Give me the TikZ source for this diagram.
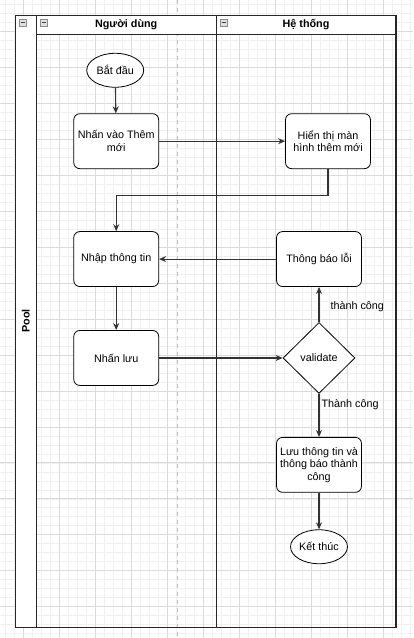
\documentclass[tikz,border=0pt]{standalone}
\usepackage{fontspec}
\setmainfont{Liberation Sans}
\usetikzlibrary{arrows.meta, positioning, shapes.geometric}
\newcommand{\fs}{\fontsize{10.8pt}{12.6pt}\selectfont}

\begin{document}
\begin{tikzpicture}[x=1pt, y=-1pt,
        proc/.style={draw, line width=0.8pt, rounded corners=6pt, minimum width=85pt, minimum height=55pt, align=center, font=\fs, fill=white},
        term/.style={draw, line width=0.8pt, ellipse, minimum width=57pt, minimum height=34pt, inner sep=0pt, font=\fs, fill=white},
        decision/.style={draw, line width=0.8pt, diamond, aspect=1, minimum width=72pt, minimum height=71pt, inner sep=0pt, font=\fs, fill=white},
        arrow/.style={-{Stealth[length=7pt, width=6pt]}, line width=1.1pt, draw=black!80},
        lbl/.style={font=\fs, anchor=west, inner sep=1pt},
        head/.style={font=\fs\bfseries},
        gridminor/.style={draw=black!6, line width=0.6pt},
        gridmajor/.style={draw=black!14, line width=0.7pt}
    ]
        % Canvas grid
        \fill[white] (0,0) rectangle (413,638);
        \foreach \x in {5,14,...,410} \draw[gridminor] (\x,0) -- (\x,638);
        \foreach \y in {4,13,...,634} \draw[gridminor] (0,\y) -- (413,\y);
        \foreach \x in {23,59,...,383} \draw[gridmajor] (\x,0) -- (\x,638);
        \foreach \y in {31,67,...,607} \draw[gridmajor] (0,\y) -- (413,\y);
        \useasboundingbox (0,0) rectangle (413,638);

        % Page break
        \draw[black!25, line width=1pt, dash pattern=on 4pt off 4pt] (177,0) -- (177,638);

        % Pool and lanes
        \fill[white] (15,15) rectangle (36,628);
        \fill[white] (36,15) rectangle (396,34);
        \draw[line width=1.2pt, black!85] (15,15) rectangle (396,628);
        \draw[line width=1.2pt, black!85] (36,15) -- (36,628);
        \draw[line width=1.2pt, black!85] (216,15) -- (216,628);
        \draw[line width=1.2pt, black!85] (36,34) -- (396,34);
        \node[head, rotate=90] (pool) at (25.5,321) {Pool};
        \node[head] (userLane) at (126,24.5) {Người dùng};
        \node[head] (sysLane) at (306,24.5) {Hệ thống};

        % Collapse icons
        \foreach \ix in {19,40,220} {
            \draw[black!45, fill=black!12, line width=0.5pt] (\ix,19) rectangle ++(7,7);
            \draw[black!75, line width=0.9pt] (\ix+1.5,22.5) -- (\ix+5.5,22.5);
        }

        % Steps
        \node[term] (start) at (115,70) {Bắt đầu};
        \node[proc] (clickAdd) at (116,141) {Nhấn vào Thêm\\mới};
        \node[proc] (showForm) at (328,141) {Hiển thị màn\\hình thêm mới};
        \node[proc] (enterInfo) at (116,259) {Nhập thông tin};
        \node[proc] (clickSave) at (116,358) {Nhấn lưu};
        \node[proc] (errorMsg) at (319,259) {Thông báo lỗi};
        \node[decision] (validate) at (319,358) {validate};
        \node[proc] (saveInfo) at (319,465) {Lưu thông tin và\\thông báo thành\\công};
        \node[term] (finish) at (319,547) {Kết thúc};

        % Flow
        \coordinate (bend) at (0,195);
        \draw[arrow] (start) -- (clickAdd);
        \draw[arrow] (clickAdd) -- (showForm);
        \draw[arrow] (showForm.south) -- (showForm.south |- bend) -| (enterInfo.north);
        \draw[arrow] (enterInfo) -- (clickSave);
        \draw[arrow] (clickSave) -- (validate);
        \draw[arrow] (validate) -- node[lbl, pos=0.43, xshift=10pt] {thành công} (errorMsg);
        \draw[arrow] (errorMsg) -- (enterInfo);
        \draw[arrow] (validate) -- node[lbl, pos=0.24, xshift=1pt] {Thành công} (saveInfo);
        \draw[arrow] (saveInfo) -- (finish);
    \end{tikzpicture}
\end{document}
